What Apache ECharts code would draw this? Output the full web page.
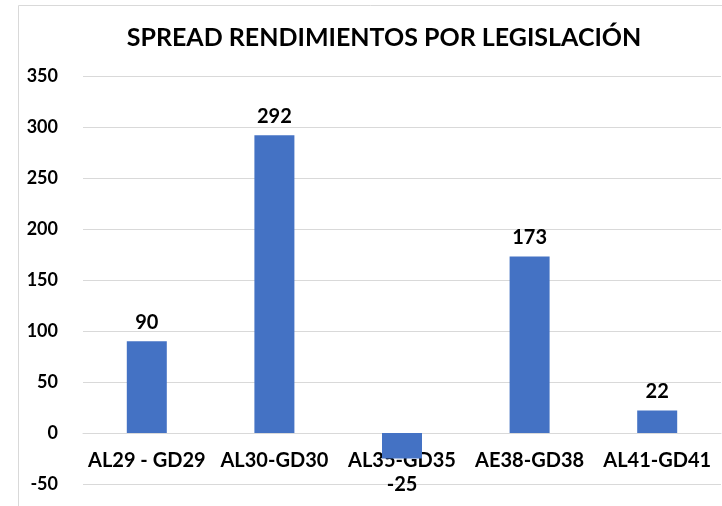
<!DOCTYPE html>
<html><head><meta charset="utf-8">
<script src="https://cdn.jsdelivr.net/npm/echarts@6/dist/echarts.min.js"></script>
<style>html,body{margin:0;padding:0;background:#fff}#c{width:722px;height:506px}</style>
</head><body><div id="c"></div>
<script>
const categories = ['AL29 - GD29', 'AL30-GD30', 'AL35-GD35', 'AE38-GD38', 'AL41-GD41'];
const values = [90, 292, -25, 173, 22];
const titleText = 'SPREAD RENDIMIENTOS POR LEGISLACIÓN';

const Y_MIN = -50, Y_MAX = 350;
const GRID_TOP = 76, GRID_BOTTOM = 22, H = 506;
const gridH = H - GRID_TOP - GRID_BOTTOM;
const zeroOffset = (0 - Y_MIN) / (Y_MAX - Y_MIN) * gridH;

const chart = echarts.init(document.getElementById('c'));
const FONT = 'Lato, "Liberation Sans", sans-serif';
const W = 'bold';
chart.setOption({
  animation: false,
  graphic: [{
    type: 'rect', left: 16, top: 3, shape: { width: 720, height: 502 },
    style: { fill: 'none', stroke: '#d9d9d9', lineWidth: 1 }, silent: true, z: -1
  }],
  title: {
    text: titleText, left: 379, textAlign: 'center', top: 20,
    textStyle: { fontFamily: FONT, fontSize: 25, fontWeight: W, color: '#000' }
  },
  grid: { left: 83, right: 1, top: GRID_TOP, bottom: GRID_BOTTOM, outerBoundsMode: 'none', containLabel: false },
  xAxis: {
    type: 'category', data: categories,
    position: 'bottom', offset: -zeroOffset,
    axisLine: { onZero: false, lineStyle: { color: '#d9d9d9' } },
    axisTick: { show: false },
    axisLabel: { interval: 0, margin: 18, fontFamily: FONT, fontSize: 20, fontWeight: W, color: '#000' }
  },
  yAxis: {
    type: 'value', min: Y_MIN, max: Y_MAX, interval: 50,
    axisLine: { show: false }, axisTick: { show: false },
    splitLine: { lineStyle: { color: '#d9d9d9' } },
    axisLabel: { margin: 25, fontFamily: FONT, fontSize: 18, fontWeight: W, color: '#000' }
  },
  series: [{
    type: 'bar', barWidth: 40,
    data: values.map(v => ({ value: v, label: { position: v < 0 ? 'bottom' : 'top', distance: v < 0 ? 16 : 9 } })),
    itemStyle: { color: '#4472C4' },
    label: { show: true, fontFamily: FONT, fontSize: 20, fontWeight: W, color: '#000' }
  }]
});
</script></body></html>
